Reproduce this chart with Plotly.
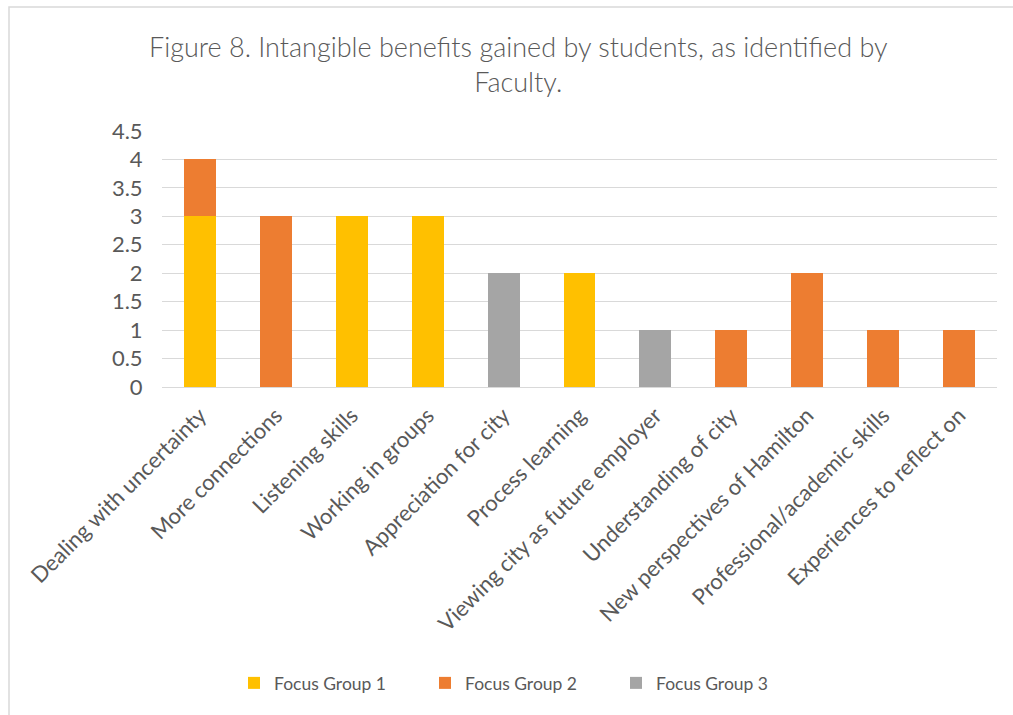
import plotly.graph_objects as go

categories = [
    "Dealing with uncertainty",
    "More connections",
    "Listening skills",
    "Working in groups",
    "Appreciation for city",
    "Process learning",
    "Viewing city as future employer",
    "Understanding of city",
    "New perspectives of Hamilton",
    "Professional/academic skills",
    "Experiences to reflect on",
]
focus_group_1 = [3, 0, 3, 3, 0, 2, 0, 0, 0, 0, 0]
focus_group_2 = [1, 3, 0, 0, 0, 0, 0, 1, 2, 1, 1]
focus_group_3 = [0, 0, 0, 0, 2, 0, 1, 0, 0, 0, 0]

series = [
    ("Focus Group 1", focus_group_1, "#FFC000"),
    ("Focus Group 2", focus_group_2, "#ED7D31"),
    ("Focus Group 3", focus_group_3, "#A5A5A5"),
]

FONT = "Lato, Carlito, 'Open Sans', sans-serif"
TEXT = "#595959"

fig = go.Figure()
for name, vals, color in series:
    fig.add_trace(go.Bar(
        x=categories,
        y=[v if v else None for v in vals],
        name=name,
        marker=dict(color=color, line=dict(width=0)),
        hoverinfo="skip",
    ))

W, H = 1013, 715
L, R, T, B = 162, 16, 131, 328

fig.update_layout(
    width=W, height=H,
    margin=dict(l=L, r=R, t=T, b=B, autoexpand=False),
    barmode="stack",
    bargap=0.58,
    paper_bgcolor="white",
    plot_bgcolor="white",
    font=dict(family=FONT, color=TEXT, size=18),
    showlegend=True,
    legend=dict(
        orientation="h",
        xref="container", yref="container",
        x=234 / W, xanchor="left",
        y=1 - 683 / H, yanchor="middle",
        font=dict(family=FONT, size=17.5, color=TEXT),
        itemwidth=30,
        traceorder="normal",
        entrywidth=146,
    ),
    xaxis=dict(
        tickangle=-45,
        tickfont=dict(family=FONT, size=22, color=TEXT),
        showgrid=False,
        showline=True, linecolor="#D9D9D9", linewidth=1,
        ticks="outside", ticklen=6, tickcolor="rgba(0,0,0,0)",
    ),
    yaxis=dict(
        range=[0, 4.5],
        dtick=0.5,
        tick0=0,
        tickfont=dict(family=FONT, size=22, color=TEXT),
        showgrid=True, gridcolor="#D9D9D9", gridwidth=1,
        zeroline=False,
        showline=False,
        ticks="outside", ticklen=14, tickcolor="rgba(0,0,0,0)",
    ),
)

# Two-line chart title
fig.add_annotation(
    text="Figure 8. Intangible benefits gained by students, as identified by<br>Faculty.",
    xref="paper", yref="paper",
    x=(518 - L) / (W - L - R), xanchor="center",
    y=(H - B - 64) / (H - T - B), yanchor="middle",
    showarrow=False,
    font=dict(family=FONT, size=27, color=TEXT, weight=300),
    align="center",
)

# Chart-area frame (left and top edges visible in the page)
fig.add_shape(
    type="rect", xref="paper", yref="paper",
    x0=(9 - L) / (W - L - R), x1=(W + 20 - L) / (W - L - R),
    y0=-(H + 20 - (H - B)) / (H - T - B), y1=(H - B - 7) / (H - T - B),
    line=dict(color="#D9D9D9", width=1.5),
    fillcolor="rgba(0,0,0,0)",
    layer="below",
)

fig.write_html("out.html")
